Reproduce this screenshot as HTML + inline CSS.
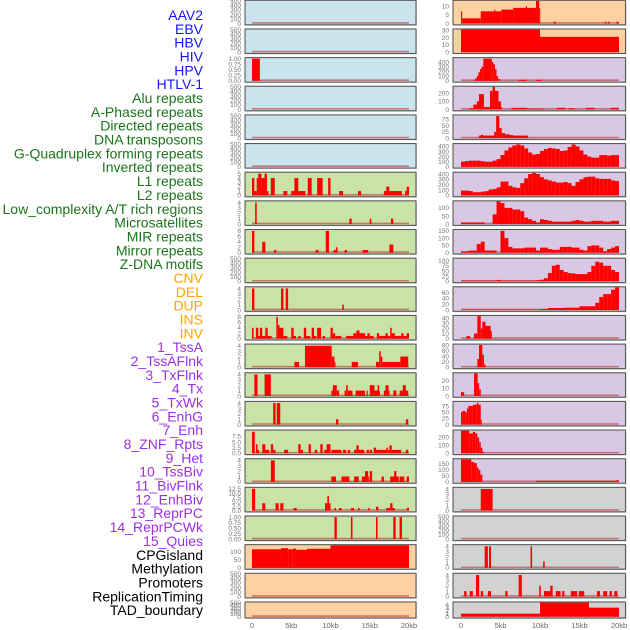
<!DOCTYPE html>
<html><head><meta charset="utf-8">
<style>
html,body{margin:0;padding:0;background:#fff;}
svg{display:block;}
text{font-family:"Liberation Sans",sans-serif;}
</style></head>
<body>
<svg id="chart" width="630" height="630" viewBox="0 0 630 630" xmlns="http://www.w3.org/2000/svg">
<g id="labels"></g>
<g id="panels"></g>
<g id="xaxes"></g>
</svg>
<script>
// ---- track labels ----
const trackNames = ["AAV2","EBV","HBV","HIV","HPV","HTLV-1","Alu repeats","A-Phased repeats","Directed repeats","DNA transposons","G-Quadruplex forming repeats","Inverted repeats","L1 repeats","L2 repeats","Low_complexity A/T rich regions","Microsatellites","MIR repeats","Mirror repeats","Z-DNA motifs","CNV","DEL","DUP","INS","INV","1_TssA","2_TssAFlnk","3_TxFlnk","4_Tx","5_TxWk","6_EnhG","7_Enh","8_ZNF_Rpts","9_Het","10_TssBiv","11_BivFlnk","12_EnhBiv","13_ReprPC","14_ReprPCWk","15_Quies","CPGisland","Methylation","Promoters","ReplicationTiming","TAD_boundary"];
const trackGroups = ["v","v","v","v","v","v","r","r","r","r","r","r","r","r","r","r","r","r","r","s","s","s","s","s","c","c","c","c","c","c","c","c","c","c","c","c","c","c","c","o","o","o","o","o"];

// ---- x axis ----
const xTickValues = [0,5000,10000,15000,20000];
const xTickLabels = ["0","5kb","10kb","15kb","20kb"];

// ---- y tick sets ----
const ticks500 = [0,100,200,300,400,500];
const ticksUnit = [0,0.25,0.5,0.75,1.0];
const ticksUnitLbl = ["0.00","0.25","0.50","0.75","1.00"];
const ticks4 = [0,1,2,3,4];
const ticks5 = [0,1,2,3,4,5];
const ticks8 = [0,2,4,6,8];
const ticks75 = [0,2.5,5,7.5];
const ticks75Lbl = ["0.0","2.5","5.0","7.5"];
const ticks125 = [0,2.5,5,7.5,10,12.5];
const ticks125Lbl = ["0.0","2.5","5.0","7.5","10.0","12.5"];

// ---- segment data [startKb, endKb, value] ----
const segHBV = [[0,1.0,1]];
const segAlu = [[0,0.3,4],[0.3,0.6,1],[0.6,0.8,4],[0.8,1.2,5],[1.2,1.6,4],[1.6,1.9,5],[1.9,2.1,1],[2.4,2.9,4],[4.0,4.5,1],[5.0,5.4,1],[5.4,5.9,4],[5.9,6.8,1],[7.1,7.6,4],[8.3,9.0,4],[9.7,10.0,4],[11.1,11.6,1],[13.5,13.9,1],[16.8,17.1,1],[17.1,17.5,2],[17.5,19.1,1],[19.5,19.7,1],[19.7,20,2]];
const segAPhased = [[0.4,0.6,4],[12.4,12.7,1],[15.0,15.2,1],[17.7,18.0,1]];
const segDirected = [[0,0.3,8],[1.3,1.7,4],[2.8,3.1,1],[8.1,8.5,1],[9.4,9.8,8],[10.4,10.7,1],[10.7,10.9,2],[11.8,12.1,1],[14.1,14.8,1],[17.5,18.0,3]];
const segGQuad = [[0,0.3,4],[3.7,4.0,4],[4.3,4.6,4],[11.5,11.7,1]];
const segInverted = [[0,0.2,4],[0.5,0.8,4],[0.8,1.0,1],[1.0,1.3,4],[1.3,1.7,1],[1.7,2.0,4],[2.0,2.5,1],[3.1,3.3,8],[3.3,3.5,5],[3.5,4.0,4],[4.0,4.5,1],[5.0,5.3,4],[5.3,5.6,1],[5.9,6.2,1],[6.6,6.9,4],[6.9,7.4,1],[7.6,7.9,4],[7.9,8.2,1],[8.3,8.8,4],[9.0,9.3,1],[10.0,10.3,4],[10.3,10.6,2],[10.6,11.4,1],[12.0,12.9,1],[12.9,13.3,2],[13.3,13.7,3],[13.7,14.4,2],[14.4,14.7,1],[14.7,15.0,2],[15.0,15.5,1],[15.9,16.2,2],[16.2,17.0,1],[17.0,17.3,2],[17.3,17.6,1],[17.6,17.8,4],[17.8,18.2,2],[18.2,19.0,1],[19.0,19.3,2],[19.3,19.7,1],[19.7,20,2]];
const segL1 = [[5.4,6.0,1],[6.75,10.15,4],[10.15,10.5,2],[10.5,10.6,1],[12.7,13.5,1],[15.8,16.2,1],[16.2,16.4,3],[16.4,16.6,2],[16.6,18.9,1],[18.9,19.9,2]];
const segL2 = [[0.3,0.7,4],[1.6,2.4,4],[10.1,10.3,1],[10.3,10.8,2],[10.8,11.1,1],[11.8,12.0,1],[12.0,12.2,2],[12.2,12.8,1],[13.2,14.4,1],[14.6,14.75,1],[15.0,15.6,2],[15.6,16.3,1],[16.0,16.2,2],[16.8,17.0,1],[17.0,17.4,2],[17.4,17.5,1],[18.0,18.4,1],[18.8,19.2,1],[19.2,19.6,2],[19.6,19.9,1]];
const segLowCx = [[2.7,3.0,4],[3.15,3.6,4],[10.7,11.0,1],[19.6,19.9,1]];
const segMicro = [[0,0.35,9.5],[0.5,0.7,4],[0.7,0.9,1.5],[1.3,1.7,4],[1.7,2.2,1.5],[2.4,2.7,4],[2.7,3.0,1.5],[4.1,4.6,1.5],[5.9,6.2,4],[6.2,6.5,1.5],[7.2,7.5,4],[8.0,8.3,1.5],[8.7,9.0,4],[9.2,9.5,1.5],[9.5,10.0,4],[10.1,11.4,1.5],[11.6,12.0,1.5],[12.2,12.5,1.5],[13.0,13.3,1.5],[13.3,13.6,3.5],[13.6,14.3,1.5],[14.6,14.9,1.5],[15.0,15.3,1.5],[15.5,15.8,2.5],[15.8,17.1,1.5],[17.1,17.3,2.5],[17.3,17.5,1.5],[17.5,17.8,3.5],[17.8,19.0,1.5],[19.6,19.9,1.5]];
const segMIR = [[2.4,2.9,4],[10.1,10.7,1],[11.4,12.4,1],[13.0,13.6,1],[14.0,14.4,1],[14.4,14.8,2],[14.8,14.9,1],[15.0,15.3,2],[16.5,16.8,1],[17.6,18.1,1],[18.1,18.4,2],[18.4,18.7,1],[18.8,19.4,1],[19.7,20,1]];
const segMirror = [[0,0.4,12.5],[1.3,1.7,4.2],[3.0,3.4,4.2],[3.6,4.0,4.2],[5.3,5.7,1.5],[9.3,9.6,4.2],[9.6,9.8,8.5],[9.8,10.0,4.2],[10.5,10.7,1.5],[11.1,11.4,1.5],[12.6,13.0,1.5],[13.5,13.7,1.5],[14.8,15.0,1.5],[15.8,16.1,2.2],[17.1,17.6,1.5],[17.6,17.9,4.2],[17.9,18.2,1.5],[19.7,20,1.5]];
const segZDNA = [[10.5,10.8,1],[12.6,12.8,1],[15.8,16.0,1],[18.0,18.3,1],[18.8,19.1,1]];
const segCNV = [[0,3.7,115],[3.7,4.6,122],[4.6,5.2,115],[5.2,5.6,119],[5.6,7.0,112],[7.0,10.0,118],[10.0,20,140]];
const segINS = [[0,0.15,7],[0.15,2.5,3],[2.5,5.1,7],[4.2,4.35,8],[5.1,6.6,8],[6.6,9.5,9],[8.2,8.35,10],[9.5,9.9,14],[9.9,10.0,9],[11.7,12.0,1],[18.2,18.4,1],[18.6,18.8,1],[19.7,20,1]];
const segINV = [[0,10.0,31],[10.0,20,21]];
const segTssA = [[1.56,1.8,10],[1.8,2.0,50],[2.0,2.2,100],[2.2,2.4,180],[2.4,2.6,250],[2.6,2.83,300],[2.83,3.9,470],[3.9,4.1,400],[4.1,4.3,350],[4.3,4.5,250],[4.5,4.7,100],[4.7,4.93,40],[7.3,8.3,20],[9.5,10.2,20]];
const segTssAFlnk = [[1.0,1.56,15],[1.56,2.0,60],[2.0,2.28,100],[2.28,2.9,190],[2.9,3.24,30],[3.24,3.67,30],[3.67,4.0,230],[4.0,4.3,290],[4.3,4.75,230],[4.75,5.05,100],[5.05,5.15,30],[6.4,8.4,20],[8.4,10.5,10],[12.1,13.2,20],[13.6,14.4,15],[15.8,16.9,20],[18.9,20,20]];
const segTxFlnk = [[2.28,2.5,10],[2.5,2.8,13],[2.8,4.2,10],[4.2,4.45,25],[4.45,4.85,88],[4.85,5.15,40],[5.15,5.6,20],[5.6,6.2,15],[6.2,6.6,12],[6.6,8.5,10]];
const segEnh = [[0.7,1.15,5],[1.65,2.07,10],[2.07,2.5,44],[2.5,2.7,20],[2.7,3.1,33],[3.1,3.75,25],[3.75,3.9,15]];
const segZNF = [[2.07,2.28,30],[2.28,2.7,80],[2.7,2.9,45],[2.9,3.1,10]];
const segHet = [[0,0.4,5],[1.65,2.1,30],[2.1,2.3,17],[2.3,2.5,9]];
const segTssBiv = [[0,0.15,50],[0.15,0.55,55],[0.55,0.75,50],[0.75,0.93,65],[0.93,1.5,75],[1.5,2.0,80],[2.0,2.2,88],[2.2,2.5,80],[2.5,2.6,20]];
const segBivFlnk = [[0,1.05,285],[1.05,1.5,250],[1.5,1.8,270],[1.8,2.07,250],[2.07,2.3,200],[2.3,2.5,140],[2.5,2.7,70],[2.7,2.9,20]];
const segEnhBiv = [[0,1.3,186],[1.3,1.65,165],[1.65,2.0,155],[2.0,2.2,120],[2.2,2.45,100],[2.45,2.7,60],[9.5,19.7,10],[19.7,19.95,15]];
const segReprPC = [[2.5,4.0,4]];
const segCpG = [[3.0,3.4,4],[3.55,3.8,4],[8.8,9.0,4],[10.4,10.6,1.2]];
const segPromoters = [[0.4,0.7,1],[1.1,1.5,1],[1.9,2.3,4],[2.5,2.8,1],[3.4,3.8,1],[5.6,5.9,1],[7.3,7.7,4],[9.9,10.1,2],[10.5,11.3,1],[11.3,11.6,2],[12.0,12.6,1],[12.8,13.1,1],[13.9,14.7,1],[14.9,15.6,1],[17.2,17.6,1],[18.0,18.5,1],[18.8,19.1,1],[19.4,19.8,1]];
const segTAD = [[0,10.0,1],[10.0,16.2,4.7],[16.2,20,3]];

// ---- binned data (0.5 kb bins, 40 bins) ----
const binsDNAtrans = [100,110,120,120,120,110,100,100,120,150,230,320,380,420,440,420,360,280,240,250,310,350,370,360,350,310,320,390,440,400,320,240,200,180,180,230,230,220,230,230];
const binsRepr = [90,90,80,60,60,70,80,110,120,150,260,260,180,150,140,230,320,400,420,400,340,300,280,260,240,240,250,230,180,250,300,340,350,350,320,310,310,310,280,270];
const binsTx = [10,10,10,10,10,10,0,0,60,140,130,100,100,90,90,80,40,30,20,10,30,25,20,15,15,15,15,15,20,25,20,15,15,20,20,20,15,15,20,20];
const binsTxWk = [8,10,15,15,60,75,15,15,15,0,150,100,40,30,30,30,35,35,35,15,35,35,25,20,20,40,40,40,35,35,20,15,45,50,50,35,10,25,35,45];
const binsEnhG = [3,3,3,3,3,3,3,3,3,7,3,3,3,3,3,3,3,3,3,5,8,15,40,75,80,55,45,40,38,35,35,35,45,75,95,90,75,75,55,45];
const binsEnh7 = [1,1,1,1,1,1,1,1,1,1,1,1,1,1,1,1,1,1,1,1,3,3,7,7,7,7,8,8,8,8,13,13,13,13,25,45,55,55,70,78];

// ---- panel layout config (column, row, background, ymax, ticks, data) ----
const BG = {v:"#c9e4ec", r:"#c9e2a6", s:"#ffd1a0", c:"#d8c8e3", g:"#d2d2d2"};
const panels = [
 ["L",0,"v",500,ticks500,null,null],["L",1,"v",500,ticks500,null,null],["L",2,"v",1.02,ticksUnit,ticksUnitLbl,segHBV],
 ["L",3,"v",500,ticks500,null,null],["L",4,"v",500,ticks500,null,null],["L",5,"v",500,ticks500,null,null],
 ["L",6,"r",5.2,ticks5,null,segAlu],["L",7,"r",4.2,ticks4,null,segAPhased],["L",8,"r",8.3,ticks8,null,segDirected],
 ["L",9,"r",500,ticks500,null,null],["L",10,"r",4.2,ticks4,null,segGQuad],["L",11,"r",8.3,ticks8,null,segInverted],
 ["L",12,"r",4.2,ticks4,null,segL1],["L",13,"r",4.2,ticks4,null,segL2],["L",14,"r",4.2,ticks4,null,segLowCx],
 ["L",15,"r",10,ticks75,ticks75Lbl,segMicro],["L",16,"r",4.2,ticks4,null,segMIR],["L",17,"r",13,ticks125,ticks125Lbl,segMirror],
 ["L",18,"r",1.02,ticksUnit,ticksUnitLbl,segZDNA],["L",19,"s",140,[0,50,100],null,segCNV],["L",20,"s",500,ticks500,null,null],["L",21,"s",500,ticks500,null,null],
 ["R",0,"s",13,[0,5,10],null,segINS],["R",1,"s",31,[0,10,20,30],null,segINV],["R",2,"c",480,[0,100,200,300,400],null,segTssA],
 ["R",3,"c",280,[0,100,200],null,segTssAFlnk],["R",4,"c",90,[0,25,50,75],null,segTxFlnk],["R",5,"c",445,[0,100,200,300,400],null,binsDNAtrans],
 ["R",6,"c",423,[0,100,200,300,400],null,binsRepr],["R",7,"c",140,[0,50,100],null,binsTx],["R",8,"c",155,[0,50,100,150],null,binsTxWk],
 ["R",9,"c",109,[0,25,50,75,100],null,binsEnhG],["R",10,"c",78,[0,20,40,60],null,binsEnh7],["R",11,"c",44,[0,10,20,30,40],null,segEnh],
 ["R",12,"c",81,[0,20,40,60,80],null,segZNF],["R",13,"c",30,[0,10,20],null,segHet],["R",14,"c",91,[0,25,50,75],null,segTssBiv],
 ["R",15,"c",285,[0,100,200],null,segBivFlnk],["R",16,"c",186,[0,50,100,150],null,segEnhBiv],["R",17,"g",4.2,ticks4,null,segReprPC],
 ["R",18,"g",500,ticks500,null,null],["R",19,"g",4.2,ticks4,null,segCpG],["R",20,"g",4.2,ticks4,null,segPromoters],["R",21,"g",4.7,ticks4,null,segTAD]
];

const NS = "http://www.w3.org/2000/svg";
function mk(tag, attrs, parent){ const e=document.createElementNS(NS,tag); for(const k in attrs) e.setAttribute(k,attrs[k]); parent.appendChild(e); return e; }
const COL = { L:{rx:245, rw:171, x0:252, x1:409}, R:{rx:453, rw:172.5, x0:461, x1:619} };
function xScale(col, kb){ const c=COL[col]; return c.x0 + (kb/20)*(c.x1-c.x0); }
function rowTop(i){ return 0.3 + i*28.65; }
function rowH(i){ return i===21 ? 16 : 24.5; }

// labels
const labelColors = {v:"#1414ff", r:"#1b751b", s:"#ffa500", c:"#9a30e8", o:"#000000"};
const gL = document.getElementById("labels");
trackNames.forEach((n,i)=>{
  const t = mk("text",{x:203, y:15+i*13.84+5, "text-anchor":"end", "font-size":"14", fill:labelColors[trackGroups[i]]}, gL);
  t.textContent = n;
  
  
});

// panels
const gP = document.getElementById("panels");
panels.forEach((p)=>{
  const [col,row,bg,ymax,ticks,tickLbls,data] = p;
  const c = COL[col], top=rowTop(row), h=rowH(row);
  const g = mk("g",{}, gP);
  
  
  mk("rect",{x:c.rx+1, y:top+1, width:c.rw, height:h, fill:"#aaa", opacity:"0.5"}, g);
  mk("rect",{x:c.rx, y:top, width:c.rw, height:h, fill:BG[bg]}, g);
  const yb = top+h-1.3, yt = top+0.6;
  const ys = v => yb - Math.min(v,ymax)/ymax*(yb-yt);
  // baseline
  const bl = mk("line",{x1:xScale(col,0), x2:xScale(col,20), y1:yb-0.6, y2:yb-0.6, stroke:"#b22", "stroke-opacity":"0.55", "stroke-width":"1.6"}, g);
  
  
  if(data){
    const isBins = typeof data[0] === "number";
    const segs = isBins ? data.map((v,k)=>[k*0.5,(k+1)*0.5,v]) : data;
    segs.forEach(s=>{
      if(s[2]<=0) return;
      const xa=xScale(col,s[0]), xb=xScale(col,s[1]);
      const r = mk("rect",{x:xa, y:ys(s[2]), width:Math.max(xb-xa,1), height:yb-ys(s[2]), fill:"#ff0000"}, g);
      
      
    });
  }
  mk("rect",{x:c.rx, y:top, width:c.rw, height:h, fill:"none", stroke:"#5a5a5a", "stroke-width":"1.1"}, g);
  // y ticks
  ticks.forEach((tv,k)=>{
    const yy = ys(tv);
    const t = mk("text",{x:c.rx-4, y:yy+2.3, "text-anchor":"end", "font-size":"6.5", fill:"#777"}, g);
    t.textContent = tickLbls ? tickLbls[k] : String(tv);
    
    
  });
});

// x axes
const gX = document.getElementById("xaxes");
["L","R"].forEach(col=>{
  xTickValues.forEach((v,k)=>{
    const t = mk("text",{x:xScale(col,v/1000), y:628, "text-anchor":"middle", "font-size":"7.5", fill:"#666"}, gX);
    t.textContent = xTickLabels[k];
    
    
  });
});
</script>
</body></html>
